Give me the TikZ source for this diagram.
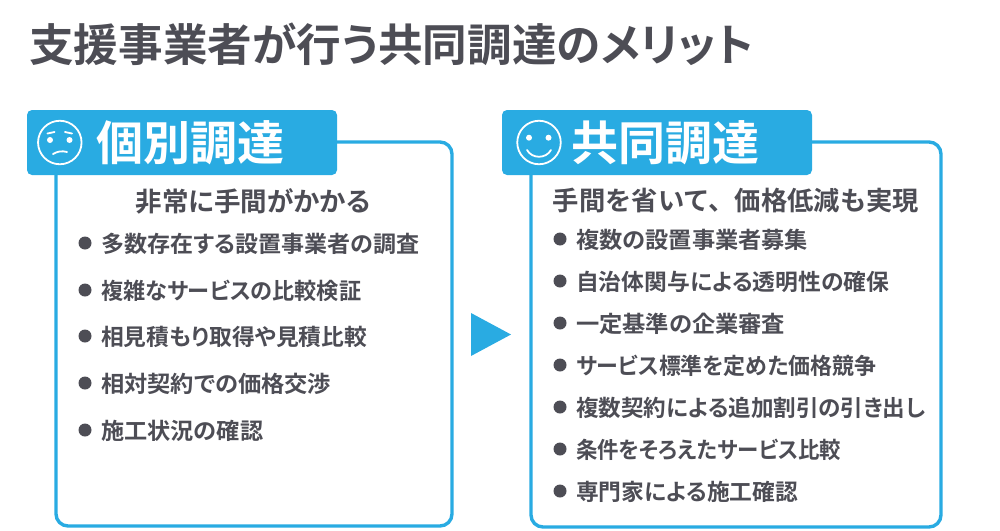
\documentclass[tikz,border=0pt]{standalone}
\usepackage{fontspec}
\setmainfont{Noto Sans CJK JP}[BoldFont={Noto Sans CJK JP Bold},RawFeature=+palt]
\newfontfamily\fullwidth{Noto Sans CJK JP}[BoldFont={Noto Sans CJK JP Bold}]
\definecolor{bluec}{HTML}{29ABE2}
\definecolor{greyc}{HTML}{4D4D55}
\newcommand{\fitw}[2]{\resizebox{#1pt}{\height}{#2}}
\tikzset{
 panel/.style={draw=bluec,line width=3.4pt,fill=white,rounded corners=12pt,outer sep=0},
 headbox/.style={fill=bluec,rounded corners=5pt,outer sep=0},
 headtxt/.style={text=white,font=\bfseries\fontsize{47pt}{48pt}\selectfont,anchor=west,inner sep=0},
 subtxt/.style={text=greyc,font=\bfseries\fontsize{26.5pt}{27pt}\selectfont,anchor=center,inner sep=0},
 itemtxt/.style={text=greyc,font=\bfseries\fontsize{22.7pt}{23pt}\selectfont,anchor=west,inner sep=0},
 bulletdot/.style={circle,fill=greyc,minimum size=13pt,inner sep=0},
 face/.style={draw=white,line width=1.8pt,circle,minimum size=43.5pt,inner sep=0},
 feat/.style={draw=white,line width=1.8pt},
}
\begin{document}
\begin{tikzpicture}[x=1pt,y=-1pt,line cap=round]
\useasboundingbox (0,0) rectangle (1000,530);
\node[anchor=west,inner sep=0,text=greyc,font=\bfseries\fontsize{44.6pt}{45pt}\selectfont] (title) at (29,44) {支援事業者が行う共同調達のメリット};
\node[panel,minimum width=396pt,minimum height=384pt,anchor=north west] (p1) at (56,142) {};
\node[panel,minimum width=410pt,minimum height=385pt,anchor=north west] (p2) at (531,142) {};
\node[headbox,minimum width=310pt,minimum height=65pt,anchor=north west] (h1) at (27,110) {};
\node[headbox,minimum width=310pt,minimum height=65pt,anchor=north west] (h2) at (502,110) {};
\node[headtxt] (ht1) at (96.5,143) {個別調達};
\node[headtxt] (ht2) at (571.5,143) {共同調達};
% sad face
\node[face] (f1) at (59.8,142.5) {};
\fill[white] (50,140) circle (3pt) (69.5,140) circle (3pt);
\draw[feat] (53,154) .. controls (57,151.5) and (62,150.5) .. (67,152);
\draw[feat] (47.5,133.5) -- (54.5,132) (65,132) -- (72,133.5);
% happy face
\node[face] (f2) at (539,142.5) {};
\fill[white] (529,137.7) circle (3pt) (548.5,137.7) circle (3pt);
\draw[feat] (527,150) .. controls (532,159) and (546,159) .. (551,150);
\node[subtxt] (s1) at (253,201) {非常に手間がかかる};
\node[subtxt] (s2) at (736,201) {\fullwidth\bfseries\fontsize{26.3pt}{27pt}\selectfont 手間を省いて、価格低減も実現};
\foreach \n/\y/\w/\t in {a/244/318/多数存在する設置事業者の調査,b/291/260/複雑なサービスの比較検証,c/337/266/相見積もり取得や見積比較,d/384/230/相対契約での価格交渉,e/431/162/施工状況の確認}{
 \node[bulletdot] (d\n) at (85,\y-1) {};
 \node[itemtxt] (t\n) at (101,\y) {\fitw{\w}{\t}};
}
\foreach \n/\y/\w/\t in {f/240/232/複数の設置事業者募集,g/282/313/自治体関与による透明性の確保,h/324/209/一定基準の企業審査,i/366/300/サービス標準を定めた価格競争,j/408/349/複数契約による追加割引の引き出し,k/450/265/条件をそろえたサービス比較,l/492/222/専門家による施工確認}{
 \node[bulletdot] (d\n) at (560,\y-1) {};
 \node[itemtxt] (t\n) at (576,\y) {\fitw{\w}{\t}};
}
\fill[bluec] (471,313) -- (511,334.5) -- (471,356) -- cycle;
\end{tikzpicture}
\end{document}
